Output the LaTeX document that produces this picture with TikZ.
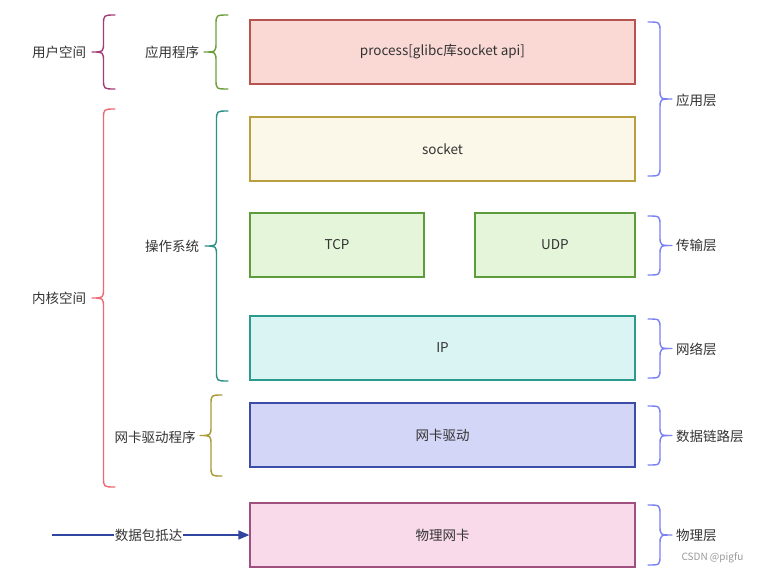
\documentclass[tikz,border=0pt]{standalone}
\usepackage{fontspec}
\setmainfont{Noto Sans CJK SC}
\usetikzlibrary{arrows.meta}
\definecolor{txt}{HTML}{333333}
\definecolor{redS}{HTML}{B85450}\definecolor{redF}{HTML}{FAD9D5}
\definecolor{yelS}{HTML}{B8A040}\definecolor{yelF}{HTML}{FBF7E9}
\definecolor{grnS}{HTML}{5E9B3A}\definecolor{grnF}{HTML}{E4F5DA}
\definecolor{tealS}{HTML}{2B9A8E}\definecolor{tealF}{HTML}{D9F4F3}
\definecolor{bluS}{HTML}{3B4DA8}\definecolor{bluF}{HTML}{D4D6F7}
\definecolor{pnkS}{HTML}{A0507E}\definecolor{pnkF}{HTML}{F9DAEA}
\definecolor{brPurple}{HTML}{A33D78}
\definecolor{brGreen}{HTML}{6A9F3A}
\definecolor{brPink}{HTML}{EA6B73}
\definecolor{brTeal}{HTML}{2B8F8A}
\definecolor{brOlive}{HTML}{A89A36}
\definecolor{brBlue}{HTML}{7B80F2}
\definecolor{arrowC}{HTML}{2F45A0}
\newcommand{\bracel}[5]{%
 \draw[#5, line width=1.4pt, line cap=round, line join=round] (#2,#3) .. controls ({(#1+#2)/2},#3) .. ({(#1+#2)/2},{#3+10}) -- ({(#1+#2)/2},{(#3+#4)/2-10}) .. controls ({(#1+#2)/2},{(#3+#4)/2}) .. (#1,{(#3+#4)/2}) .. controls ({(#1+#2)/2},{(#3+#4)/2}) .. ({(#1+#2)/2},{(#3+#4)/2+10}) -- ({(#1+#2)/2},{#4-10}) .. controls ({(#1+#2)/2},#4) .. (#2,#4);}
\newcommand{\bracer}[5]{%
 \draw[#5, line width=1.4pt, line cap=round, line join=round] (#1,#3) .. controls ({(#1+#2)/2},#3) .. ({(#1+#2)/2},{#3+10}) -- ({(#1+#2)/2},{(#3+#4)/2-10}) .. controls ({(#1+#2)/2},{(#3+#4)/2}) .. (#2,{(#3+#4)/2}) .. controls ({(#1+#2)/2},{(#3+#4)/2}) .. ({(#1+#2)/2},{(#3+#4)/2+10}) -- ({(#1+#2)/2},{#4-10}) .. controls ({(#1+#2)/2},#4) .. (#1,#4);}
\begin{document}
\begin{tikzpicture}[x=1pt,y=-1pt,
  layerbox/.style={draw=#1S, fill=#1F, line width=1.2pt, inner sep=0pt, text=txt, font=\fontsize{13.5}{15}\selectfont},
  lbl/.style={text=txt, font=\fontsize{13.5}{15}\selectfont, inner sep=1pt}]
\useasboundingbox (0,0) rectangle (759,574);
% boxes
\node[layerbox=red, minimum width=385pt, minimum height=64pt] (proc) at (442.5,52) {process[glibc库socket api]};
\node[layerbox=yel, minimum width=385pt, minimum height=64pt] (sock) at (442.5,149) {socket};
\node[layerbox=grn, minimum width=174pt, minimum height=64pt] (tcp) at (337,245) {TCP};
\node[layerbox=grn, minimum width=160pt, minimum height=64pt] (udp) at (555,245) {UDP};
\node[layerbox=teal, minimum width=385pt, minimum height=64pt] (ip) at (442.5,348) {IP};
\node[layerbox=blu, minimum width=385pt, minimum height=64pt] (nic) at (442.5,435) {网卡驱动};
\node[layerbox=pnk, minimum width=385pt, minimum height=64pt] (phy) at (442.5,535) {物理网卡};
% left braces
\bracel{92}{115}{15}{89}{brPurple}
\node[lbl] (user) at (59,52) {用户空间};
\bracel{204}{228}{15}{89}{brGreen}
\node[lbl] (app) at (172,52) {应用程序};
\bracel{92}{115}{109}{487}{brPink}
\node[lbl] (kern) at (59,298) {内核空间};
\bracel{205}{228}{111}{381}{brTeal}
\node[lbl] (os) at (172,246) {操作系统};
\bracel{200}{222}{395}{476}{brOlive}
\node[lbl] (drv) at (155,437) {网卡驱动程序};
% right braces
\bracer{648}{672}{22}{176}{brBlue}
\node[lbl, anchor=west] (l5) at (675,100) {应用层};
\bracer{648}{672}{216}{275}{brBlue}
\node[lbl, anchor=west] (l4) at (675,245) {传输层};
\bracer{648}{672}{319}{378}{brBlue}
\node[lbl, anchor=west] (l3) at (675,349) {网络层};
\bracer{648}{672}{406}{465}{brBlue}
\node[lbl, anchor=west] (l2) at (675,436) {数据链路层};
\bracer{648}{672}{505}{565}{brBlue}
\node[lbl, anchor=west] (l1) at (675,535) {物理层};
% arrow
\coordinate (src) at (52,535);
\draw[arrowC, line width=1.2pt, -{Triangle[length=11pt,width=9pt]}] (src) -- (phy.west)
  node[pos=0.49, fill=white, lbl] (arr) {数据包抵达};
\node[text=gray!80, font=\fontsize{10}{12}\selectfont, anchor=west] (wm) at (678,558) {CSDN @pigfu};
\end{tikzpicture}
\end{document}
